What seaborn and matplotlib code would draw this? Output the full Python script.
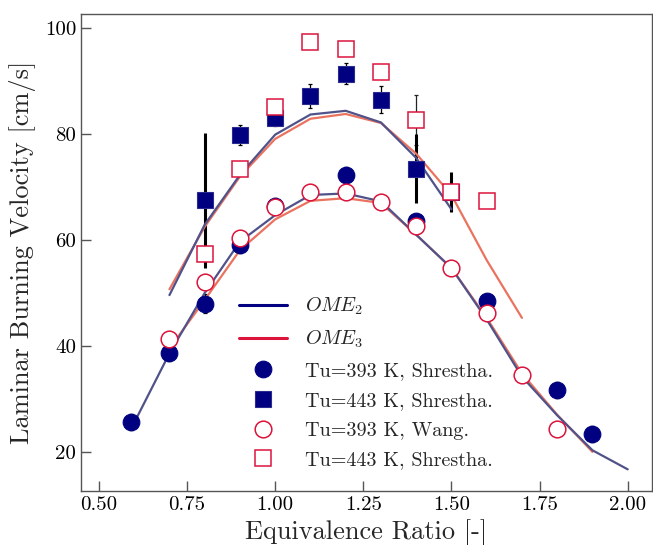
import numpy as np
import pandas as pd
import seaborn as sns
import matplotlib
matplotlib.use("Agg")
import matplotlib.pyplot as plt

# ---------------- data ----------------
phi_ome2_443 = [0.7, 0.8, 0.9, 1.0, 1.1, 1.2, 1.3, 1.4, 1.5]
v_ome2_443 = [49.6, 62.9, 72.3, 79.9, 83.7, 84.4, 82.2, 75.5, 65.8]
phi_ome3_443 = [0.7, 0.8, 0.9, 1.0, 1.1, 1.2, 1.3, 1.4, 1.5, 1.6, 1.7]
v_ome3_443 = [50.7, 62.5, 72.0, 79.1, 82.9, 83.8, 82.1, 76.3, 68.5, 56.2, 45.3]
phi_ome2_393 = [0.6, 0.7, 0.8, 0.9, 1.0, 1.1, 1.2, 1.3, 1.4, 1.5, 1.6, 1.7, 1.8, 1.9, 2.0]
v_ome2_393 = [25.5, 38.6, 50.0, 59.7, 64.7, 68.5, 68.8, 67.3, 61.0, 54.7, 45.0, 34.2, 26.9, 20.3, 16.7]
phi_ome3_393 = [0.7, 0.8, 0.9, 1.0, 1.1, 1.2, 1.3, 1.4, 1.5, 1.6, 1.7, 1.8, 1.9]
v_ome3_393 = [39.5, 48.7, 58.1, 63.9, 67.4, 67.9, 67.0, 61.0, 54.7, 45.3, 34.8, 27.0, 20.0]

# Tu=393 K, Shrestha (filled circles)
phi_s393 = [0.59, 0.7, 0.8, 0.9, 1.0, 1.2, 1.4, 1.6, 1.8, 1.9]
v_s393 = [25.7, 38.7, 48.0, 59.1, 66.5, 72.2, 63.5, 48.4, 31.7, 23.3]
e_s393 = [1.5, 1.5, 1.8, 1.5, 1.5, 1.5, 1.5, 1.5, 1.5, 1.5]

# Tu=443 K, Shrestha (filled squares)
phi_s443 = [0.8, 0.9, 1.0, 1.1, 1.2, 1.3, 1.4, 1.5]
v_s443 = [67.5, 79.9, 83.0, 87.2, 91.4, 86.5, 73.5, 69.0]
e_s443 = [12.8, 1.9, 1.5, 2.2, 2.0, 2.5, 6.5, 3.8]

# Tu=393 K, Wang (open circles)
phi_w393 = [0.7, 0.8, 0.9, 1.0, 1.1, 1.2, 1.3, 1.4, 1.5, 1.6, 1.7, 1.8]
v_w393 = [41.4, 52.0, 60.3, 66.2, 69.0, 69.1, 67.1, 62.7, 54.8, 46.3, 34.5, 24.3]

# Tu=443 K, Shrestha (open squares)
phi_o443 = [0.8, 0.9, 1.0, 1.1, 1.2, 1.3, 1.4, 1.5, 1.6]
v_o443 = [57.3, 73.4, 85.1, 97.3, 96.1, 91.7, 82.7, 69.0, 67.4]
e_o443 = [0.0, 0.0, 0.0, 0.0, 0.0, 0.0, 4.7, 0.0, 0.0]

xticks = [0.50, 0.75, 1.00, 1.25, 1.50, 1.75, 2.00]
yticks = [20, 40, 60, 80, 100]

# ---------------- style ----------------
sns.set_style("white")
plt.rcParams['font.family'] = ['serif']
plt.rcParams['font.serif'] = ['cmr10', 'DejaVu Serif']
plt.rcParams['mathtext.fontset'] = 'cm'
plt.rcParams['axes.formatter.use_mathtext'] = True
plt.rcParams['axes.unicode_minus'] = False

NAVY = '#000080'
CRIMSON = '#dc143c'
LINE2 = '#50528a'
LINE3 = '#ea735f'
SPINE = '#555555'

fig = plt.figure(figsize=(6.53, 5.45), dpi=100)
ax = fig.add_axes([0.124, 0.099, 0.8745, 0.8755])

df2a = pd.DataFrame({'phi': phi_ome2_443, 'v': v_ome2_443})
df3a = pd.DataFrame({'phi': phi_ome3_443, 'v': v_ome3_443})
df2b = pd.DataFrame({'phi': phi_ome2_393, 'v': v_ome2_393})
df3b = pd.DataFrame({'phi': phi_ome3_393, 'v': v_ome3_393})

sns.lineplot(data=df3a, x='phi', y='v', ax=ax, color=LINE3, lw=1.6, zorder=2)
sns.lineplot(data=df3b, x='phi', y='v', ax=ax, color=LINE3, lw=1.6, zorder=2)
sns.lineplot(data=df2a, x='phi', y='v', ax=ax, color=LINE2, lw=1.6, zorder=2.1)
sns.lineplot(data=df2b, x='phi', y='v', ax=ax, color=LINE2, lw=1.6, zorder=2.1)

# error bars
for p, v, e in zip(phi_s443, v_s443, e_s443):
    big = e > 3.0
    ax.errorbar(p, v, yerr=e, fmt='none', ecolor='black',
                elinewidth=2.2 if big else 0.9, capsize=0 if big else 1.5,
                capthick=1.5 if big else 0.9, zorder=1.5)
ax.errorbar(phi_s393, v_s393, yerr=e_s393, fmt='none', ecolor='black',
            elinewidth=0.9, capsize=1.5, capthick=0.9, zorder=1.5)
for p, v, e in zip(phi_o443, v_o443, e_o443):
    if e > 0:
        ax.errorbar(p, v, yerr=e, fmt='none', ecolor='#222222',
                    elinewidth=0.9, capsize=1.5, capthick=0.9, zorder=1.4)

# markers
h_s443, = ax.plot(phi_s443, v_s443, 's', ms=11.3, mfc=NAVY, mec='#2a2a90',
                  mew=0.8, ls='none', zorder=3)
h_s393, = ax.plot(phi_s393, v_s393, 'o', ms=12, mfc=NAVY, mec=NAVY,
                  mew=0.8, ls='none', zorder=3)
h_o443, = ax.plot(phi_o443, v_o443, 's', ms=11.3, mfc='white', mec=CRIMSON,
                  mew=1.1, ls='none', zorder=4)
h_w393, = ax.plot(phi_w393, v_w393, 'o', ms=12, mfc='white', mec=CRIMSON,
                  mew=1.1, ls='none', zorder=4)

# legend handles
from matplotlib.lines import Line2D
l2 = Line2D([], [], color=NAVY, lw=2.2)
l3 = Line2D([], [], color=CRIMSON, lw=2.2)
leg = ax.legend([l2, l3, h_s393, h_s443, h_w393, h_o443],
                ['$OME_2$', '$OME_3$', 'Tu=393 K, Shrestha.', 'Tu=443 K, Shrestha.',
                 'Tu=393 K, Wang.', 'Tu=443 K, Shrestha.'],
                loc='upper left', bbox_to_anchor=(0.262, 0.426), frameon=False,
                fontsize=14.5, handlelength=2.4, labelspacing=0.58,
                handletextpad=0.9, borderaxespad=0)

ax.set_xlim(0.449, 2.069)
ax.set_ylim(12.6, 102.7)
ax.set_xticks(xticks)
ax.set_xticklabels([f'{t:.2f}' for t in xticks])
ax.set_yticks(yticks)
ax.set_yticklabels([str(t) for t in yticks])
ax.tick_params(direction='in', length=7, width=1, colors=SPINE,
               labelcolor='black', labelsize=15, bottom=True, left=True,
               top=False, right=False)
for s in ax.spines.values():
    s.set_color(SPINE)
    s.set_linewidth(1.0)
ax.set_xlabel('Equivalence Ratio [-]', fontsize=19, labelpad=4)
ax.set_ylabel('Laminar Burning Velocity [cm/s]', fontsize=19, labelpad=6)

fig.savefig('out.png', dpi=100)
